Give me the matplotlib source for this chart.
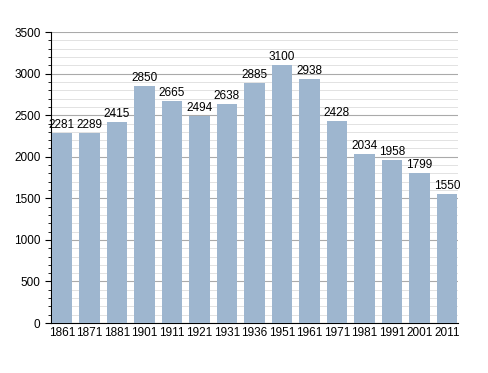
import matplotlib.pyplot as plt
import numpy as np
from matplotlib.ticker import MultipleLocator

plt.rcParams['font.family'] = ['Liberation Sans', 'DejaVu Sans']

years = ["1861", "1871", "1881", "1901", "1911", "1921", "1931", "1936",
         "1951", "1961", "1971", "1981", "1991", "2001", "2011"]
population = [2281, 2289, 2415, 2850, 2665, 2494, 2638, 2885,
              3100, 2938, 2428, 2034, 1958, 1799, 1550]

fig = plt.figure(figsize=(4.88, 3.73), dpi=100)
ax = fig.add_axes([0.1045, 0.134, 0.834, 0.78])

x = np.arange(len(years))
ax.bar(x, population, width=0.74, color='#9eb6cf', zorder=3)
for xi, v in zip(x, population):
    ax.text(xi, v + 25, str(v), ha='center', va='bottom', fontsize=8.5, zorder=4)

ax.set_ylim(0, 3500)
ax.set_xlim(-0.4, 14.4)
ax.yaxis.set_major_locator(MultipleLocator(500))
ax.yaxis.set_minor_locator(MultipleLocator(100))
ax.grid(which='major', axis='y', color='#aaaaaa', linewidth=0.8, zorder=1)
ax.grid(which='minor', axis='y', color='#dddddd', linewidth=0.6, zorder=1)
ax.set_xticks(x)
ax.set_xticklabels(years)
ax.tick_params(axis='x', length=0, labelsize=8.5, pad=3)
ax.tick_params(axis='y', which='major', length=4, labelsize=8.5)
ax.tick_params(axis='y', which='minor', length=2)
for s in ['top', 'right']:
    ax.spines[s].set_visible(False)

fig.savefig('out.png', dpi=100)
